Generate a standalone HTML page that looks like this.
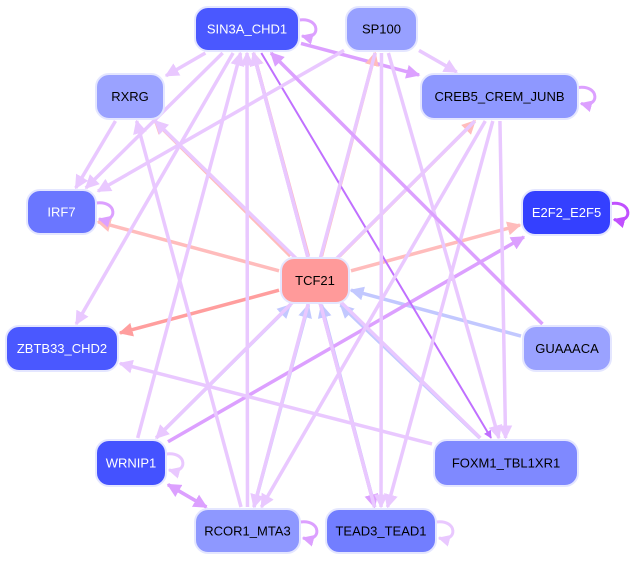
<!DOCTYPE html>
<html><head><meta charset="utf-8"><style>
html,body{margin:0;padding:0;background:#fff;width:642px;height:563px;overflow:hidden}
svg{display:block}
text{font-family:"Liberation Sans","DejaVu Sans",sans-serif;font-size:13px}
</style></head><body>
<svg id="s" width="642" height="563" viewBox="0 0 642 563" xmlns="http://www.w3.org/2000/svg">
<defs id="d"></defs>
<g id="e"></g>
<g id="n"></g>
</svg>
<script>
const N={
SIN3A:[195,7,104,44,'#4a58ff','#fff','SIN3A_CHD1'],
SP100:[346,7,71,44,'#97a0ff','#000','SP100'],
RXRG:[96,74,68,45,'#9aa2ff','#000','RXRG'],
CREB5:[421,74,157,45,'#8e98ff','#000','CREB5_CREM_JUNB'],
IRF7:[27,190,69,44,'#6a76ff','#fff','IRF7'],
E2F2:[522,190,89,45,'#3440ff','#fff','E2F2_E2F5'],
TCF21:[281,258,68,45,'#ff9a9a','#000','TCF21'],
ZBTB33:[6,326,112,45,'#4a58ff','#fff','ZBTB33_CHD2'],
GUA:[523,326,88,45,'#9aa2ff','#000','GUAAACA'],
WRNIP1:[96,440,70,46,'#4452ff','#fff','WRNIP1'],
FOXM1:[434,440,144,46,'#7f89ff','#000','FOXM1_TBL1XR1'],
RCOR1:[195,509,105,44,'#8e98ff','#000','RCOR1_MTA3'],
TEAD3:[326,509,110,44,'#727eff','#000','TEAD3_TEAD1']};
const LP='#e9c8ff',PU='#dca0ff',PK='#ffbcbc',BL='#c2c8ff',DP='#c070ff',RP='#ff9e9e';
const E=[
['SIN3A','CREB5',PU],['SP100','CREB5',LP],['SIN3A','RXRG',LP],
['TCF21','SIN3A',PK],['TCF21','SP100',PK],['TCF21','RXRG',PK],['TCF21','IRF7',PK],
['TCF21','CREB5',PK],['TCF21','E2F2',PK],['TCF21','ZBTB33',RP],
['GUA','TCF21',BL],['FOXM1','TCF21',BL],['TEAD3','TCF21',BL],['RCOR1','TCF21',BL],['WRNIP1','TCF21',BL],
['WRNIP1','E2F2',PU],['SIN3A','FOXM1',DP],['SIN3A','TEAD3',PU],
['SIN3A','IRF7',LP],['SIN3A','ZBTB33',LP],['RXRG','IRF7',LP],['SP100','IRF7',LP],
['SP100','TEAD3',LP],['SP100','FOXM1',LP],['SP100','RCOR1',LP],
['CREB5','WRNIP1',LP],['CREB5','TEAD3',LP],['CREB5','FOXM1',LP],['CREB5','RCOR1',LP],
['GUA','SIN3A',PU],['RCOR1','RXRG',LP],['RCOR1','SIN3A',LP],['WRNIP1','SIN3A',LP],
['FOXM1','RXRG',LP],['FOXM1','ZBTB33',LP],['WRNIP1','RCOR1',PU],['RCOR1','WRNIP1',PU],['TEAD3','SIN3A',LP]];
const ns='http://www.w3.org/2000/svg',d=document.getElementById('d'),eg=document.getElementById('e'),ng=document.getElementById('n');
const mk={};
function marker(c){if(mk[c])return mk[c];const id='m'+Object.keys(mk).length;const m=document.createElementNS(ns,'marker');
m.setAttribute('id',id);m.setAttribute('viewBox','0 0 10 10');m.setAttribute('refX','9');m.setAttribute('refY','5');
m.setAttribute('markerWidth','4');m.setAttribute('markerHeight','4');m.setAttribute('orient','auto');m.setAttribute('markerUnits','strokeWidth');
m.innerHTML='<path d="M0,0L10,5L0,10z" fill="'+c+'"/>';d.appendChild(m);mk[c]=id;return id;}
function ctr(k){const a=N[k];return[a[0]+a[2]/2,a[1]+a[3]/2];}
function clip(k,dx,dy){const a=N[k];const hw=a[2]/2+2,hh=a[3]/2+2;const t=Math.min(Math.abs(hw/(dx||1e-9)),Math.abs(hh/(dy||1e-9)));return t;}
E.forEach(([f,t,c])=>{const[a,b]=ctr(f),[x,y]=ctr(t);const dx=x-a,dy=y-b;
const t1=clip(f,dx,dy),t2=clip(t,-dx,-dy);
const l=document.createElementNS(ns,'line');
l.setAttribute('x1',a+dx*t1);l.setAttribute('y1',b+dy*t1);l.setAttribute('x2',x-dx*t2);l.setAttribute('y2',y-dy*t2);
l.setAttribute('stroke',c);l.setAttribute('stroke-width',c==DP?2:3.5);l.setAttribute('marker-end','url(#'+marker(c)+')');eg.appendChild(l);});
function loop(k,c){const a=N[k];const x=a[0]+a[2],y=a[1]+a[3]/2;const p=document.createElementNS(ns,'path');
p.setAttribute('d',`M${x},${y-9} C${x+22},${y-12} ${x+22},${y+12} ${x+3},${y+7}`);p.setAttribute('fill','none');p.setAttribute('stroke',c);
p.setAttribute('stroke-width',3);p.setAttribute('marker-end','url(#'+marker(c)+')');eg.appendChild(p);}
loop('SIN3A',PU);loop('CREB5',PU);loop('IRF7',PU);loop('E2F2','#c050ff');loop('WRNIP1',LP);loop('RCOR1',PU);loop('TEAD3',LP);
for(const k in N){const a=N[k];const r=document.createElementNS(ns,'rect');
r.setAttribute('x',a[0]);r.setAttribute('y',a[1]);r.setAttribute('width',a[2]);r.setAttribute('height',a[3]);r.setAttribute('rx',13);
r.setAttribute('fill',a[4]);r.setAttribute('stroke','#e4e6ff');r.setAttribute('stroke-width',2);ng.appendChild(r);
const t=document.createElementNS(ns,'text');t.setAttribute('x',a[0]+a[2]/2);t.setAttribute('y',a[1]+a[3]/2+4.5);
t.setAttribute('text-anchor','middle');t.setAttribute('fill',a[5]);t.textContent=a[6];ng.appendChild(t);}
</script>
</body></html>
